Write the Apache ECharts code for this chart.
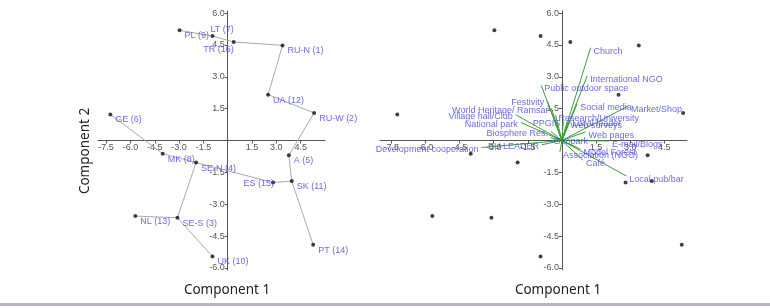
<!DOCTYPE html>
<html>
<head>
<meta charset="utf-8">
<script src="https://cdn.jsdelivr.net/npm/echarts@6/dist/echarts.min.js"></script>
<style>
  html, body { margin: 0; padding: 0; background: #fff; }
  #pca { width: 770px; height: 308px; }
</style>
</head>
<body>
<div id="pca"></div>
<script>
// site scores (component 1 / component 2)
const siteNames = ['PL (9)', 'LT (7)', 'TR (16)', 'RU-N (1)', 'UA (12)', 'RU-W (2)', 'GE (6)', 'MK (8)',
  'SE-N (4)', 'A (5)', 'ES (15)', 'SK (11)', 'NL (13)', 'SE-S (3)', 'UK (10)', 'PT (14)']
const siteX = [-2.97, -0.94, 0.37, 3.38, 2.49, 5.33, -7.24, -4.01, -1.95, 3.77, 2.80, 3.95, -5.70, -3.10, -0.94, 5.27]
const siteY = [5.19, 4.92, 4.64, 4.48, 2.16, 1.30, 1.23, -0.62, -1.04, -0.70, -1.98, -1.91, -3.56, -3.64, -5.46, -4.91]

// minimum spanning tree, pairs of site indexes
const treeEdges = [[0, 1], [1, 2], [2, 3], [3, 4], [4, 5], [5, 9], [9, 11], [11, 10], [11, 15],
  [10, 8], [8, 7], [7, 6], [8, 13], [13, 12], [13, 14]]

// variable loadings (biplot vectors)
const varNames = ['Church', 'International NGO', 'Public outdoor space', 'Festivity', 'Social media',
  'Market/Shop', 'World Heritage/ Ramsar', 'Village hall/Club', 'National park', 'Research/University',
  'PPGIS', 'Web surveys', 'Local leader', 'Biosphere Res.', 'Web pages', 'EU LEADER', 'Geopark',
  'E-mail/Blogs', 'Development cooperation', 'Association (NGO)', 'Model Forest', 'Café', 'Local pub/bar']
const varX = [1.26, 1.11, -0.91, -0.65, 0.67, 2.91, -0.46, -2.03, -1.81, -0.28, 0.06, 0.23, 0.32, -0.48,
  1.04, -0.88, -0.50, 2.07, -3.54, -0.09, 0.82, 0.93, 2.83]
const varY = [4.37, 3.04, 2.60, 1.87, 1.73, 1.62, 1.51, 1.21, 0.85, 1.20, 0.89, 0.87, 0.96, 0.42,
  0.41, -0.20, 0.13, -0.02, -0.33, -0.54, -0.41, -0.93, -1.67]

const tickValues = [-7.5, -6, -4.5, -3, -1.5, 1.5, 3, 4.5]
const yTickValues = [-6, -4.5, -3, -1.5, 1.5, 3, 4.5, 6]

const chart = echarts.init(document.getElementById('pca'))

const labelBlue = '#4545e6'
const font = 'Liberation Sans, Arial, sans-serif'

// panel layout
const grids = [
  { left: 98, width: 227, top: 11, height: 259, xMin: -8, xMax: 6 },
  { left: 380, width: 307, top: 11, height: 259, xMin: -8, xMax: 5.5 }
]
const yMin = -6.1
const yMax = 6.1

// labels that sit left of their point / vector tip
const leftVarLabels = ['Development cooperation', 'World Heritage/ Ramsar', 'Village hall/Club',
  'National park', 'Festivity', 'Biosphere Res.', 'EU LEADER', 'PPGIS']
const siteLabelTweaks = {
  'LT (7)': { position: 'right', offset: [-7, -6.5] },
  'TR (16)': { position: 'left', distance: -2, offset: [0, 8] },
  'ES (15)': { position: 'left', distance: -3, offset: [0, 0.5] }
}

const sitePoints = siteNames.map((n, i) => {
  const item = { name: n, value: [siteX[i], siteY[i]] }
  if (siteLabelTweaks[n]) item.label = siteLabelTweaks[n]
  return item
})
const treeLines = treeEdges.map(e => ({
  coords: [[siteX[e[0]], siteY[e[0]]], [siteX[e[1]], siteY[e[1]]]]
}))
const vecLines = varNames.map((n, i) => ({ coords: [[0, 0], [varX[i], varY[i]]] }))
const vecTips = varNames.map((n, i) => {
  const left = leftVarLabels.includes(n)
  return {
    name: n,
    value: [varX[i], varY[i]],
    label: left ? { position: 'left', offset: [0, 2] } : { position: 'right', offset: [0, 3.5] }
  }
})

const tickLabel = {
  formatter: v => v.toFixed(1),
  color: '#555',
  fontSize: 9,
  fontFamily: font,
  margin: 3
}

// axes cross at the origin: shift them in from the grid edge
const xAxisFor = (g, idx) => ({
  type: 'value',
  gridIndex: idx,
  min: g.xMin,
  max: g.xMax,
  position: 'bottom',
  offset: -g.height * (0 - yMin) / (yMax - yMin),
  splitLine: { show: false },
  axisLine: { onZero: false, lineStyle: { color: '#555', width: 1 } },
  axisTick: { length: 3, customValues: tickValues, lineStyle: { color: '#555' } },
  axisLabel: Object.assign({ customValues: tickValues }, tickLabel)
})
const yAxisFor = (g, idx) => ({
  type: 'value',
  gridIndex: idx,
  min: yMin,
  max: yMax,
  position: 'left',
  offset: -g.width * (0 - g.xMin) / (g.xMax - g.xMin),
  splitLine: { show: false },
  axisLine: { onZero: false, lineStyle: { color: '#555', width: 1 } },
  axisTick: { length: 3, customValues: yTickValues, lineStyle: { color: '#555' } },
  axisLabel: Object.assign({ customValues: yTickValues }, tickLabel)
})

const titleStyle = { font: '13.5px "Noto Sans"', fill: '#222', align: 'center', verticalAlign: 'middle' }

const option = {
  animation: false,
  grid: grids.map(g => ({ left: g.left, width: g.width, top: g.top, height: g.height })),
  xAxis: grids.map(xAxisFor),
  yAxis: grids.map(yAxisFor),
  graphic: [
    { type: 'text', x: 227, y: 290, style: Object.assign({ text: 'Component 1' }, titleStyle) },
    { type: 'text', x: 558, y: 290, style: Object.assign({ text: 'Component 1' }, titleStyle) },
    { type: 'text', x: 85, y: 151, rotation: Math.PI / 2, style: Object.assign({ text: 'Component 2' }, titleStyle) },
    { type: 'rect', shape: { x: 0, y: 303, width: 770, height: 3 }, style: { fill: '#b4b6ca' } }
  ],
  series: [
    {
      type: 'lines',
      coordinateSystem: 'cartesian2d',
      xAxisIndex: 0,
      yAxisIndex: 0,
      data: treeLines,
      lineStyle: { color: '#a9a9a9', width: 1, opacity: 1 },
      silent: true,
      z: 2
    },
    {
      type: 'scatter',
      xAxisIndex: 0,
      yAxisIndex: 0,
      data: sitePoints,
      symbolSize: 4,
      itemStyle: { color: '#111' },
      label: {
        show: true,
        formatter: p => p.name,
        position: 'right',
        distance: 3,
        offset: [0, 5.5],
        color: labelBlue,
        fontSize: 9,
        fontFamily: font
      },
      silent: true,
      z: 3
    },
    {
      type: 'lines',
      coordinateSystem: 'cartesian2d',
      xAxisIndex: 1,
      yAxisIndex: 1,
      data: vecLines,
      lineStyle: { color: '#3d9c3d', width: 1, opacity: 1 },
      silent: true,
      z: 2
    },
    {
      type: 'scatter',
      xAxisIndex: 1,
      yAxisIndex: 1,
      data: siteNames.map((n, i) => [siteX[i], siteY[i]]),
      symbolSize: 4,
      itemStyle: { color: '#111' },
      silent: true,
      z: 3
    },
    {
      type: 'scatter',
      xAxisIndex: 1,
      yAxisIndex: 1,
      data: vecTips,
      symbolSize: 0,
      label: {
        show: true,
        formatter: p => p.name,
        distance: 3,
        color: labelBlue,
        fontSize: 9,
        fontFamily: font
      },
      silent: true,
      z: 4
    }
  ]
}
chart.setOption(option)
</script>
</body>
</html>
